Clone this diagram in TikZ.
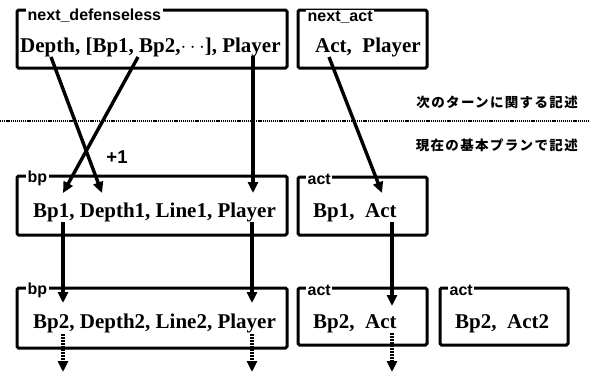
\documentclass[tikz,border=0pt]{standalone}
\usepackage{fontspec}
\setmainfont{Liberation Serif}
\setsansfont{Liberation Sans}
\newfontfamily\jpfont{Noto Sans CJK JP}[LetterSpace=10]
\usetikzlibrary{arrows.meta}
\begin{document}
\begin{tikzpicture}[x=1pt,y=-1pt,
  box/.style={draw,line width=3pt,rounded corners=1.5pt,inner sep=0pt},
  ttl/.style={fill=white,inner xsep=1.5pt,inner ysep=0.5pt,font=\sffamily\bfseries\fontsize{16}{16}\selectfont,anchor=base west},
  cnt/.style={inner sep=0pt,font=\bfseries\fontsize{21}{21}\selectfont,anchor=base west},
  jp/.style={inner sep=0pt,font=\jpfont\bfseries\fontsize{13.5}{13.5}\selectfont,anchor=east},
  flow/.style={line width=3.4pt,-{Triangle[length=11pt,width=10pt]}},
  dflow/.style={line width=3.2pt,dash pattern=on 1.8pt off 1.2pt,-{Triangle[length=11pt,width=10pt]}}
]
\useasboundingbox (0,0) rectangle (590,376);

% separator
\draw[line width=1.1pt,dash pattern=on 1.2pt off 0.9pt] (0,121) -- (590,121);
\node[jp] (jpNext) at (578,102) {次のターンに関する記述};
\node[jp] (jpCur) at (578,145) {現在の基本プランで記述};

% boxes
\node[box,minimum width=270pt,minimum height=58pt] (nd) at (152,39) {};
\node[box,minimum width=129pt,minimum height=58pt] (na) at (362.5,39) {};
\node[box,minimum width=270pt,minimum height=59pt] (bpA) at (152,205.5) {};
\node[box,minimum width=129pt,minimum height=58pt] (actA) at (362.5,206) {};
\node[box,minimum width=270pt,minimum height=60pt] (bpB) at (152,318) {};
\node[box,minimum width=129pt,minimum height=57pt] (actB) at (362.5,316.5) {};
\node[box,minimum width=128pt,minimum height=57pt] (actC) at (504,316.5) {};

% titles
\node[ttl] (ndT) at (26,20) {next\_defenseless};
\node[ttl] (naT) at (306,21) {next\_act};
\node[ttl] (bpAT) at (26,182) {bp};
\node[ttl] (actAT) at (306,184) {act};
\node[ttl] (bpBT) at (26,294) {bp};
\node[ttl] (actBT) at (306,295) {act};
\node[ttl] (actCT) at (448,295) {act};

% contents
\node[cnt] (ndC) at (20,52) {Depth, [Bp1, Bp2,$\cdots$], Player};
\node[cnt] (naC) at (315,52) {Act,\ \ Player};
\node[cnt] (bpAC) at (33,217) {Bp1, Depth1, Line1, Player};
\node[cnt] (actAC) at (313,217) {Bp1,\ \ Act};
\node[cnt] (bpBC) at (33,328) {Bp2, Depth2, Line2, Player};
\node[cnt] (actBC) at (313,328) {Bp2,\ \ Act};
\node[cnt] (actCC) at (455,328) {Bp2,\ \ Act2};

\node[inner sep=0pt,font=\sffamily\bfseries\fontsize{18.5}{18.5}\selectfont] (plusone) at (117,157) {+1};

% connector points
\coordinate (pDepth) at (51,57);
\coordinate (pBpList) at (138,57);
\coordinate (pPlayer) at (253,56);
\coordinate (pAct) at (329,57);
\coordinate (qBp) at (63,193);
\coordinate (qDepth) at (102,193);
\coordinate (qPlayer) at (253,193);
\coordinate (qAct) at (382,193);
\coordinate (rBp) at (63,222);
\coordinate (rPlayer) at (252,222);
\coordinate (rAct) at (392,222);
\coordinate (sBp) at (63,303);
\coordinate (sPlayer) at (252,303);
\coordinate (sAct) at (392,306);
\coordinate (tBp) at (63,334);
\coordinate (tPlayer) at (252,334);
\coordinate (tAct) at (392,333);
\coordinate (uBp) at (63,372);
\coordinate (uPlayer) at (252,372);
\coordinate (uAct) at (392,372);

\draw[flow] (pDepth) -- (qDepth);
\draw[flow] (pBpList) -- (qBp);
\draw[flow] (pPlayer) -- (qPlayer);
\draw[flow] (pAct) -- (qAct);
\draw[flow] (rBp) -- (sBp);
\draw[flow] (rPlayer) -- (sPlayer);
\draw[flow] (rAct) -- (sAct);
\draw[dflow] (tBp) -- (uBp);
\draw[dflow] (tPlayer) -- (uPlayer);
\draw[dflow] (tAct) -- (uAct);
\end{tikzpicture}
\end{document}
